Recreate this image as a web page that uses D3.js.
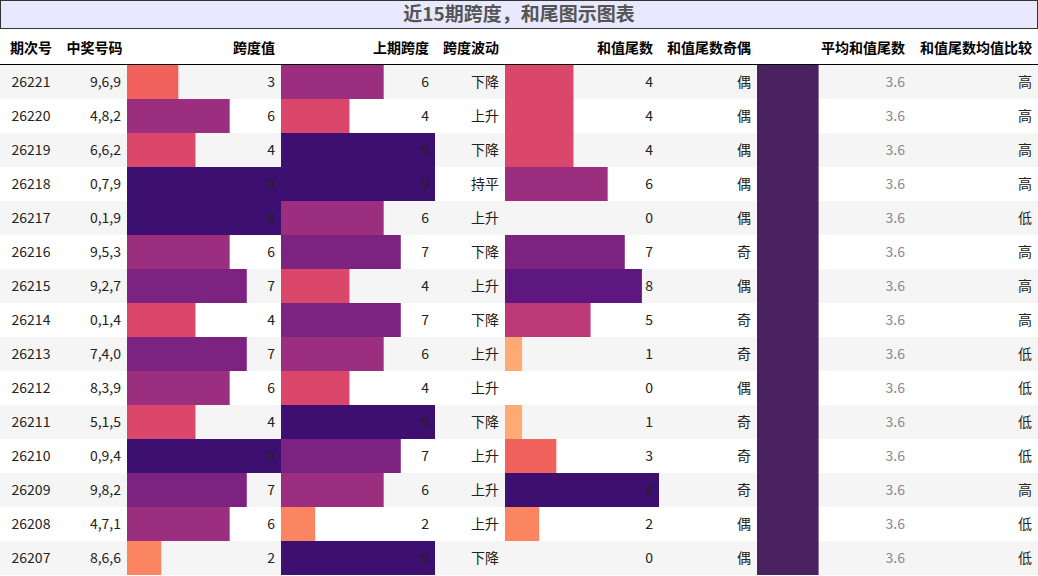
<!DOCTYPE html>
<html><head><meta charset="utf-8">
<script src="https://cdn.jsdelivr.net/npm/d3@7"></script>
<style>body{margin:0;background:#fff;font-family:"Noto Sans CJK SC","Liberation Sans",sans-serif}</style>
</head><body><svg id="c" width="1038" height="576"></svg>
<script>
const issues = ["26221","26220","26219","26218","26217","26216","26215","26214","26213","26212","26211","26210","26209","26208","26207"]
const numbers = ["9,6,9","4,8,2","6,6,2","0,7,9","0,1,9","9,5,3","9,2,7","0,1,4","7,4,0","8,3,9","5,1,5","0,9,4","9,8,2","4,7,1","8,6,6"]
const span = [3,6,4,9,9,6,7,4,7,6,4,9,7,6,2]
const prevSpan = [6,4,9,9,6,7,4,7,6,4,9,7,6,2,9]
const trend = ["下降","上升","下降","持平","上升","下降","上升","下降","上升","上升","下降","上升","上升","上升","下降"]
const tail = [4,4,4,6,0,7,8,5,1,0,1,3,9,2,0]
const parity = ["偶","偶","偶","偶","偶","奇","偶","奇","奇","偶","奇","奇","奇","偶","偶"]
const avgTail = 3.6
const compare = ["高","高","高","高","低","高","高","高","低","低","低","低","高","低","低"]
const headers = ["期次号","中奖号码","跨度值","上期跨度","跨度波动","和值尾数","和值尾数奇偶","平均和值尾数","和值尾数均值比较"]

const svg = d3.select("#c")
const edges = [0,62,127,281,435,505,659,757,911,1038]
const rowH = 34, tableTop = 65
const y = d3.scaleBand().domain(issues).range([tableTop, tableTop + rowH*issues.length])
const w = d3.scaleLinear().domain([0,9]).range([0,154])
const color = v => d3.interpolateMagma(0.9 - v*0.077)

svg.append("rect").attr("x",0.5).attr("y",0.5).attr("width",1037).attr("height",28)
  .attr("fill","#e8e8ff").attr("stroke","#333")
svg.append("text").attr("x",519).attr("y",21).attr("text-anchor","middle")
  .attr("font-size",19).attr("font-weight","bold").attr("fill","#555").text("近15期跨度，和尾图示图表")

headers.forEach((h,i)=>{
  svg.append("text").attr("x", i<2 ? edges[i]+(edges[i+1]-edges[i])/2 : edges[i+1]-6).attr("y",53)
    .attr("text-anchor", i<2 ? "middle" : "end").attr("font-size",14).attr("font-weight","bold").text(h)
})
svg.append("line").attr("x1",0).attr("x2",1038).attr("y1",64.5).attr("y2",64.5).attr("stroke","#000")

const rows = svg.selectAll("g.row").data(issues).join("g").attr("transform",d=>`translate(0,${y(d)})`)
rows.append("rect").attr("width",1038).attr("height",rowH).attr("fill",(d,i)=>i%2===0?"#f5f5f5":"#fff")

function barCol(vals, ci, fmt, fixedColor){
  rows.append("rect").attr("x",edges[ci]).attr("y",0).attr("height",rowH)
    .attr("width",(d,i)=>w(vals[i])).attr("fill",(d,i)=>fixedColor||color(vals[i]))
  rows.append("text").attr("x",edges[ci+1]-6).attr("y",22).attr("text-anchor","end").attr("font-size",14)
    .attr("fill",fixedColor?"#888":"#222").text((d,i)=>fmt?fmt(vals[i]):vals[i])
}
function textCol(vals, ci, anchor){
  rows.append("text").attr("x", anchor==="middle" ? (edges[ci]+edges[ci+1])/2 : edges[ci+1]-6).attr("y",22)
    .attr("text-anchor",anchor).attr("font-size",14).attr("fill","#222").text((d,i)=>vals[i])
}
textCol(issues,0,"middle")
textCol(numbers,1,"end")
barCol(span,2)
barCol(prevSpan,3)
textCol(trend,4,"end")
barCol(tail,5)
textCol(parity,6,"end")
barCol(issues.map(()=>avgTail),7,v=>v.toFixed(1),"#4a2260")
textCol(compare,8,"end")
</script></body></html>
